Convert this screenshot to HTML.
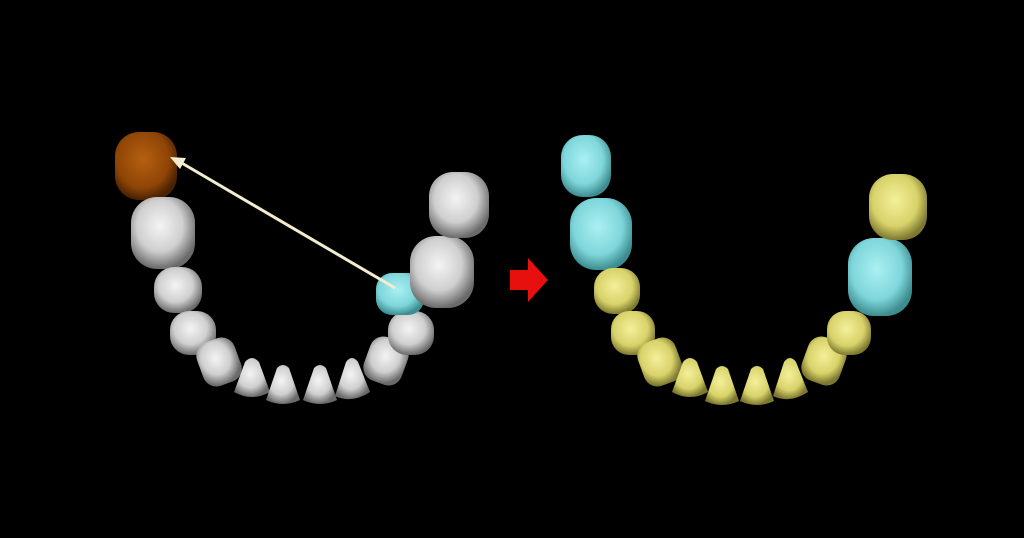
<!DOCTYPE html>
<html><head><style>html,body{margin:0;padding:0;background:#000;width:1024px;height:538px;overflow:hidden}</style></head>
<body>
<svg width="1024" height="538" viewBox="0 0 1024 538" xmlns="http://www.w3.org/2000/svg">
<defs>
<radialGradient id="w" cx="45%" cy="40%" r="60%"><stop offset="0" stop-color="#f4f4f4"/><stop offset="0.6" stop-color="#cfcfcf"/><stop offset="1" stop-color="#6a6a6a"/></radialGradient>
<radialGradient id="b" cx="45%" cy="40%" r="60%"><stop offset="0" stop-color="#b5600f"/><stop offset="0.7" stop-color="#8f4507"/><stop offset="1" stop-color="#4a2202"/></radialGradient>
<radialGradient id="c" cx="45%" cy="40%" r="60%"><stop offset="0" stop-color="#aaf0f2"/><stop offset="0.65" stop-color="#7fd6da"/><stop offset="1" stop-color="#3d8d90"/></radialGradient>
<radialGradient id="y" cx="45%" cy="40%" r="60%"><stop offset="0" stop-color="#f4f09a"/><stop offset="0.65" stop-color="#d8d26a"/><stop offset="1" stop-color="#7d7830"/></radialGradient>
</defs>
<g stroke="none">
<!-- left arch -->
<rect x="115" y="132" width="62" height="68" rx="24" fill="url(#b)"/>
<rect x="131" y="197" width="64" height="72" rx="26" fill="url(#w)"/>
<rect x="154" y="267" width="48" height="46" rx="20" fill="url(#w)"/>
<rect x="170" y="311" width="46" height="44" rx="19" fill="url(#w)"/>
<rect x="199" y="339" width="40" height="46" rx="14" fill="url(#w)" transform="rotate(-20 219 362)"/>
<path d="M234 392 L245 362 Q252 354 259 362 L270 392 Q252 402 234 392Z" fill="url(#w)"/>
<path d="M266 400 L277 368 Q283 362 289 368 L300 400 Q283 408 266 400Z" fill="url(#w)"/>
<path d="M303 400 L314 368 Q320 362 326 368 L337 400 Q320 408 303 400Z" fill="url(#w)"/>
<path d="M335 396 L346 362 Q352 354 358 362 L370 392 Q352 404 335 396Z" fill="url(#w)"/>
<rect x="366" y="338" width="40" height="46" rx="14" fill="url(#w)" transform="rotate(20 386 361)"/>
<rect x="388" y="311" width="46" height="44" rx="19" fill="url(#w)"/>
<rect x="376" y="273" width="48" height="42" rx="16" fill="url(#c)"/>
<rect x="410" y="236" width="64" height="72" rx="26" fill="url(#w)"/>
<rect x="429" y="172" width="60" height="66" rx="24" fill="url(#w)"/>
<!-- arrow line -->
<line x1="395" y1="288" x2="180" y2="162" stroke="#f3ecce" stroke-width="3"/>
<polygon points="170,157 186,158 180,169" fill="#f3ecce"/>
<!-- red arrow -->
<path d="M510 270 L528 270 L528 258 L548 280 L528 302 L528 290 L510 290Z" fill="#e8100f"/>
<!-- right arch -->
<rect x="561" y="135" width="50" height="62" rx="22" fill="url(#c)"/>
<rect x="570" y="198" width="62" height="72" rx="26" fill="url(#c)"/>
<rect x="594" y="268" width="46" height="46" rx="19" fill="url(#y)"/>
<rect x="611" y="311" width="44" height="44" rx="18" fill="url(#y)"/>
<rect x="640" y="339" width="40" height="46" rx="14" fill="url(#y)" transform="rotate(-20 660 362)"/>
<path d="M672 392 L683 362 Q690 354 697 362 L708 392 Q690 402 672 392Z" fill="url(#y)"/>
<path d="M705 401 L716 369 Q722 363 728 369 L739 401 Q722 409 705 401Z" fill="url(#y)"/>
<path d="M740 401 L751 369 Q757 363 763 369 L774 401 Q757 409 740 401Z" fill="url(#y)"/>
<path d="M773 396 L784 362 Q790 354 796 362 L808 392 Q790 404 773 396Z" fill="url(#y)"/>
<rect x="804" y="338" width="40" height="46" rx="14" fill="url(#y)" transform="rotate(20 824 361)"/>
<rect x="827" y="311" width="44" height="44" rx="18" fill="url(#y)"/>
<rect x="848" y="238" width="64" height="78" rx="26" fill="url(#c)"/>
<rect x="869" y="174" width="58" height="66" rx="24" fill="url(#y)"/>
</g>
</svg>
</body></html>
